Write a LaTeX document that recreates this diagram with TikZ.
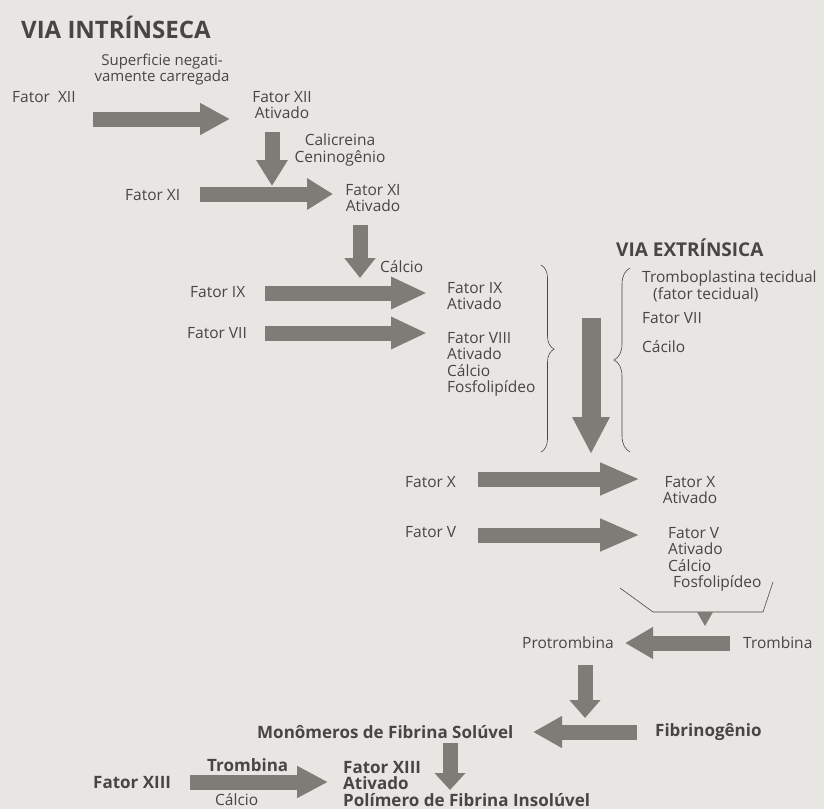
\documentclass[tikz,border=0pt]{standalone}
\usepackage{fontspec}
\setmainfont{Open Sans}
\usetikzlibrary{arrows.meta,decorations.pathreplacing}
\definecolor{papel}{RGB}{231,230,226}
\definecolor{cinzaseta}{RGB}{126,124,118}
\definecolor{texto}{RGB}{72,70,66}

\begin{document}
\begin{tikzpicture}[x=1pt, y=-1pt,
    rotulo/.style={text=texto, font=\fontsize{15.5}{16.5}\selectfont, inner sep=0pt, align=left},
    negrito/.style={rotulo, font=\fontsize{17}{16.5}\selectfont\bfseries},
    menor/.style={rotulo, font=\fontsize{15}{14}\selectfont},
    seta/.style={draw=cinzaseta, line width=15pt, -{Triangle[width=30pt,length=#1]}},
    seta/.default=30pt,
    chave/.style={draw=texto, semithick, decorate, decoration={brace, amplitude=#1}}]

    % Fundo
    \useasboundingbox (0,0) rectangle (824,809);
    \fill[papel] (0,0) rectangle (824,809);

    % Via intrinseca
    \node[negrito, font=\fontsize{24}{28}\selectfont\bfseries, anchor=west] (intrinseca) at (21,27) {VIA INTRÍNSECA};
    \node[menor, align=center] (superf) at (162,70) {Superficie negati-\\vamente carregada};
    \node[rotulo, anchor=west] (fxii) at (12,97) {Fator \ XII};
    \node[rotulo, align=center, anchor=north] (fxiiat) at (282,91) {Fator XII\\Ativado};
    \node[rotulo, align=center, anchor=north] (calicr) at (340,134) {Calicreina\\Ceninogênio};
    \node[rotulo, anchor=west] (fxi) at (125,195) {Fator XI};
    \node[rotulo, align=center, anchor=north] (fxiat) at (373,184) {Fator XI\\Ativado};
    \node[rotulo, anchor=west] (calcioa) at (380,267) {Cálcio};
    \node[rotulo, anchor=west] (fix) at (190,292) {Fator IX};
    \node[rotulo, anchor=north west] (fixat) at (447,282) {Fator IX\\Ativado};
    \node[rotulo, anchor=west] (fvii) at (187,333) {Fator VII};
    \node[rotulo, anchor=north west] (fviiiat) at (447,332) {Fator VIII\\Ativado\\Cálcio\\Fosfolipídeo};

    % Via extrinseca
    \node[negrito, font=\fontsize{19}{22}\selectfont\bfseries, anchor=west] (extrinseca) at (616,248) {VIA EXTRÍNSICA};
    \node[rotulo, anchor=north west, font=\fontsize{15.5}{15.5}\selectfont] (trombopl) at (642,271) {Tromboplastina tecidual\\\hspace*{11pt}(fator tecidual)};
    \node[rotulo, anchor=west] (fviib) at (642,318) {Fator VII};
    \node[rotulo, anchor=west] (cacilo) at (642,347) {Cácilo};

    % Via comum
    \node[rotulo, anchor=west] (fx) at (405,482) {Fator X};
    \node[rotulo, align=center, anchor=north] (fxat) at (690,476) {Fator X\\Ativado};
    \node[rotulo, anchor=west] (fv) at (405,532) {Fator V};
    \node[rotulo, anchor=north west] (fvat) at (668,527) {Fator V\\Ativado\\Cálcio\\\hspace*{5pt}Fosfolipídeo};
    \node[rotulo, anchor=west] (protromb) at (522,643) {Protrombina};
    \node[rotulo, anchor=west] (tromb) at (743,643) {Trombina};
    \node[negrito, anchor=west] (fibrin) at (655,732) {Fibrinogênio};
    \node[negrito, anchor=west] (monom) at (257,732) {Monômeros de Fibrina Solúvel};
    \node[negrito, anchor=west] (trombb) at (207,765) {Trombina};
    \node[negrito, anchor=west] (fxiii) at (93,783) {Fator XIII};
    \node[rotulo, anchor=west] (calciob) at (215,800) {Cálcio};
    \node[negrito, anchor=north west] (fxiiiat) at (343,761) {Fator XIII\\Ativado\\Polímero de Fibrina Insolúvel};

    % Pontas das setas
    \coordinate (s1) at (93,119);   \coordinate (t1) at (230,119);
    \coordinate (s2) at (272,132);  \coordinate (t2) at (272,186);
    \coordinate (s3) at (200,194);  \coordinate (t3) at (333,194);
    \coordinate (s4) at (360,225);  \coordinate (t4) at (360,278);
    \coordinate (s5) at (265,293);  \coordinate (t5) at (427,293);
    \coordinate (s6) at (265,333);  \coordinate (t6) at (427,333);
    \coordinate (s7) at (591,318);  \coordinate (t7) at (591,454);
    \coordinate (s8) at (478,479);  \coordinate (t8) at (640,479);
    \coordinate (s9) at (478,535);  \coordinate (t9) at (640,535);
    \coordinate (s10) at (730,643); \coordinate (t10) at (625,643);
    \coordinate (s11) at (585,665); \coordinate (t11) at (585,718);
    \coordinate (s12) at (637,732); \coordinate (t12) at (533,732);
    \coordinate (s13) at (190,782); \coordinate (t13) at (328,782);
    \coordinate (s14) at (450,743); \coordinate (t14) at (450,790);

    % Setas
    \draw[seta] (s1) -- (t1);
    \draw[seta=26pt] (s2) -- (t2);
    \draw[seta=26pt] (s3) -- (t3);
    \draw[seta=20pt] (s4) -- (t4);
    \draw[seta=36pt] (s5) -- (t5);
    \draw[seta=36pt] (s6) -- (t6);
    \draw[draw=cinzaseta, line width=19pt, -{Triangle[width=35pt,length=37pt]}] (s7) -- (t7);
    \draw[seta=40pt] (s8) -- (t8);
    \draw[seta=40pt] (s9) -- (t9);
    \draw[seta=28pt] (s10) -- (t10);
    \draw[seta=18pt] (s11) -- (t11);
    \draw[seta=29pt] (s12) -- (t12);
    \draw[seta=31pt] (s13) -- (t13);
    \draw[seta=17pt] (s14) -- (t14);

    % Chaves
    \draw[chave=13pt, decoration={aspect=0.45}] (541,265) -- (541,452);
    \draw[chave=16pt] (630,452) -- (630,268);

    % Suporte do fator V ativado
    \draw[texto, semithick] (620,588) -- (653,612) -- (763,612) -- (773,582);
    \fill[cinzaseta] (697,612) -- (713,612) -- (705,626) -- cycle;
\end{tikzpicture}
\end{document}
